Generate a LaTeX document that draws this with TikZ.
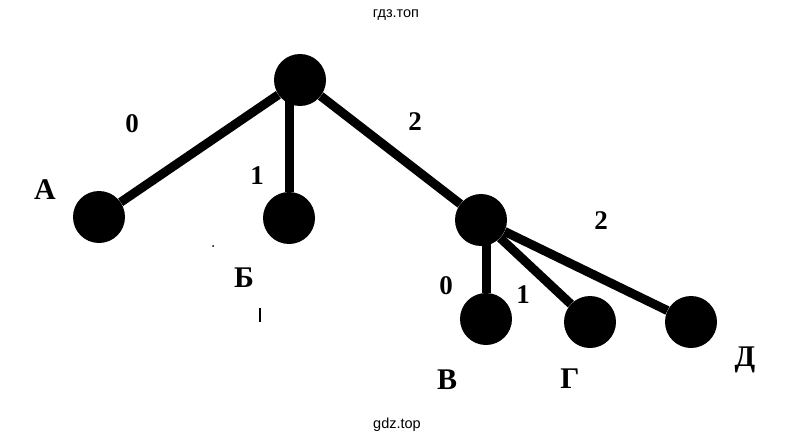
\documentclass[tikz,border=0pt]{standalone}
\usepackage{fontspec}
\setmainfont{Liberation Serif}
\newfontfamily\wmfont{Liberation Sans}
\tikzset{
  vertex/.style={circle, fill=black, minimum size=52pt, inner sep=0pt},
  letter/.style={inner sep=0pt, font=\fontsize{30}{30}\selectfont\bfseries},
  weight/.style={inner sep=0pt, font=\fontsize{27}{27}\selectfont\bfseries},
  wm/.style={inner sep=0pt, font=\wmfont\fontsize{14.5}{14.5}\selectfont}
}

\begin{document}
\begin{tikzpicture}[x=1pt, y=-1pt]
\useasboundingbox (0,0) rectangle (795,444);

\node[wm] (top) at (396,15) {гдз.топ};
\node[wm] (bottom) at (397,425) {gdz.top};

\node[vertex] (root) at (300,80) {};
\node[vertex] (a) at (99,217) {};
\node[vertex] (b) at (289,218) {};
\node[vertex] (mid) at (481,220) {};
\node[vertex] (v) at (486,319) {};
\node[vertex] (g) at (590,322) {};
\node[vertex] (d) at (691,322) {};

\draw[line width=9pt] (root) -- (a);
\draw[line width=9pt] (b) -- (b |- root);
\draw[line width=9pt] (root) -- (mid);
\draw[line width=9pt] (v) -- (v |- mid);
\draw[line width=9pt] (mid) -- (g);
\draw[line width=9pt] (mid) -- (d);

\node[weight] (w0) at (132,124) {0};
\node[weight] (w1) at (257,176) {1};
\node[weight] (w2) at (415,122) {2};
\node[weight] (w3) at (601,221) {2};
\node[weight] (w4) at (446,286) {0};
\node[weight] (w5) at (523,295) {1};

\node[letter] (la) at (45,190) {А};
\node[letter] (lb) at (244,278) {Б};
\node[letter] (lv) at (447,380) {В};
\node[letter] (lg) at (570,379) {Г};
\node[letter] (ld) at (745,360) {Д};

\draw[line width=1.2pt] (260,308) -- (260,322);
\fill (213,246) circle (1pt);

\end{tikzpicture}
\end{document}
